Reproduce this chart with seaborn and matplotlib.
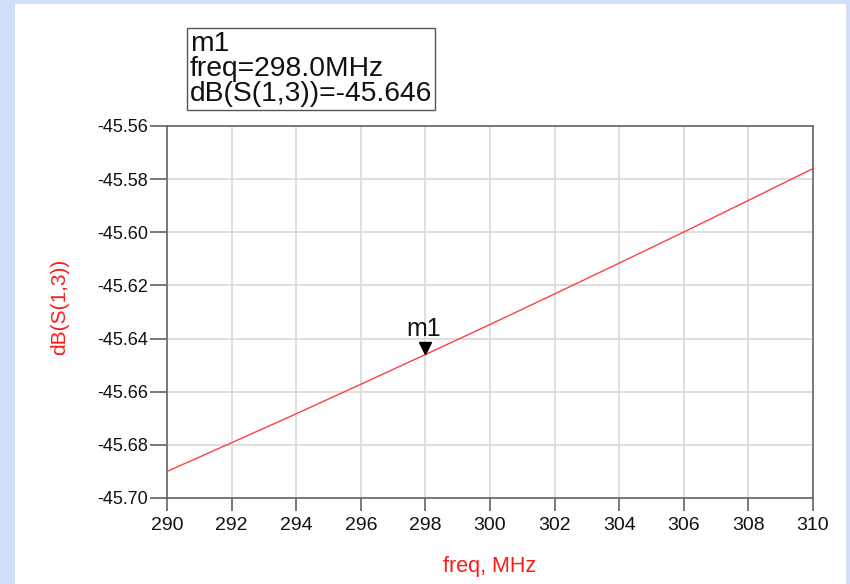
import matplotlib
matplotlib.use("Agg")
import matplotlib.pyplot as plt
import matplotlib.patches as mpatches
import matplotlib.transforms as mtransforms
from matplotlib.ticker import MultipleLocator, FixedLocator
import seaborn as sns
import pandas as pd

# ---- data ----
freq_mhz = [290, 292, 294, 296, 298, 300, 302, 304, 306, 308, 310]
db_s13 = [-45.6900, -45.6792, -45.6683, -45.6572, -45.6460, -45.6347,
          -45.6232, -45.6116, -45.5999, -45.5880, -45.5760]
marker_name = "m1"
marker_freq = 298.0
marker_value = -45.646
x_ticks = [290, 292, 294, 296, 298, 300, 302, 304, 306, 308, 310]
y_ticks = [-45.70, -45.68, -45.66, -45.64, -45.62, -45.60, -45.58, -45.56]

df = pd.DataFrame({"freq": freq_mhz, "db": db_s13})

sns.set_theme(style="white")
plt.rcParams["font.family"] = ["Liberation Sans", "DejaVu Sans"]
plt.rcParams["axes.unicode_minus"] = False

W, H = 850, 584
fig = plt.figure(figsize=(W / 100, H / 100), dpi=100, facecolor="#d3defb")

# white panel
fig.patches.append(mpatches.Rectangle((15 / W, 0), (846 - 15) / W, 1 - 4 / H,
                                      transform=fig.transFigure,
                                      facecolor="white", edgecolor="none", zorder=-10))

ax = fig.add_axes([167 / W, (H - 498) / H, (813 - 167) / W, (498 - 126) / H])
ax.set_zorder(2)
ax.set_facecolor("white")

sns.lineplot(data=df, x="freq", y="db", ax=ax, color="#ff4040", linewidth=1.0,
             zorder=3)

ax.set_xlim(290, 310)
ax.set_ylim(-45.70, -45.56)
ax.xaxis.set_major_locator(FixedLocator(x_ticks))
ax.xaxis.set_minor_locator(MultipleLocator(1))
ax.yaxis.set_major_locator(FixedLocator(y_ticks))
ax.yaxis.set_minor_locator(MultipleLocator(0.01))
ax.set_xticklabels([f"{v:d}" for v in x_ticks])
ax.set_yticklabels([f"{v:.2f}" for v in y_ticks])

ax.grid(True, which="major", color="#d9d9d9", linewidth=1.2, zorder=0)
for s in ax.spines.values():
    s.set_visible(True)
    s.set_color("#666666")
    s.set_linewidth(1.2)

ax.tick_params(axis="both", which="both", direction="out", color="#555555",
               width=1.1, labelcolor="#111111")
ax.tick_params(axis="y", which="major", length=12, pad=1.5, labelsize=13)
ax.tick_params(axis="y", which="minor", length=7)
ax.tick_params(axis="x", which="major", length=9.5, pad=4, labelsize=14)
ax.tick_params(axis="x", which="minor", length=5.5)
ax.tick_params(left=True, bottom=True, right=False, top=False)

ax.set_xlabel("freq, MHz", color="#ff1a1a", fontsize=15.5)
ax.set_ylabel("dB(S(1,3))", color="#ff1a1a", fontsize=15)
ax.xaxis.set_label_coords(0.5, -0.155)
ax.yaxis.set_label_coords(-0.152, 0.513)

# marker triangle with tip on the curve
tri_tr = mtransforms.offset_copy(ax.transData, fig=fig, x=0, y=4.5, units="points")
ax.plot([marker_freq], [marker_value], marker="v", markersize=9, color="black",
        transform=tri_tr, zorder=5, clip_on=False)
ax.annotate(marker_name, xy=(marker_freq, marker_value), xytext=(-1, 9.5),
            textcoords="offset points", ha="center", va="bottom",
            fontsize=18, color="#111111", zorder=6)

# marker readout box
fig.text(190 / W, 1 - 31 / H,
         f"{marker_name}\nfreq={marker_freq:.1f}MHz\ndB(S(1,3))={marker_value:.3f}",
         ha="left", va="top", fontsize=20.3, linespacing=0.95, color="#111111",
         bbox=dict(boxstyle="square,pad=0.1", facecolor="white",
                   edgecolor="#555555", linewidth=1.0))

fig.savefig("out.png", dpi=100, facecolor=fig.get_facecolor())
